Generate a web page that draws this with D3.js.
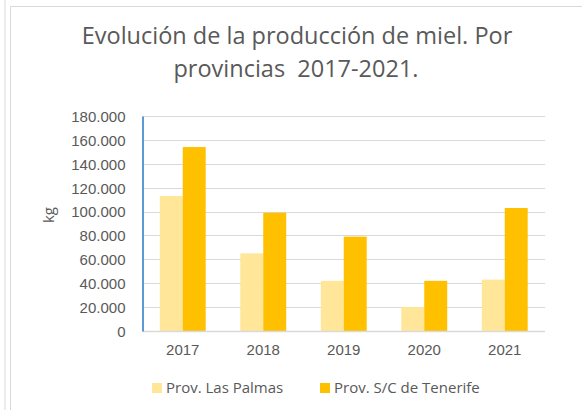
<!DOCTYPE html>
<html>
<head>
<meta charset="utf-8">
<script src="https://d3js.org/d3.v7.min.js"></script>
<style>
  body { margin: 0; background: #fff; }
  svg { display: block; font-family: "Open Sans", "Liberation Sans", Arial, sans-serif; }
</style>
</head>
<body>
<div id="chart"></div>
<script>
// data
const years = ["2017", "2018", "2019", "2020", "2021"];
const lasPalmas = [113000, 65000, 42000, 20000, 43000];
const tenerife = [154000, 99000, 79000, 42000, 103000];
const seriesNames = ["Prov. Las Palmas", "Prov. S/C de Tenerife"];
const seriesColors = ["#FFE699", "#FFC000"];
const yTicks = [0, 20000, 40000, 60000, 80000, 100000, 120000, 140000, 160000, 180000];

const width = 582, height = 410;
const margin = { left: 142.5, right: 37, top: 116, bottom: 79 };

const svg = d3.select("#chart").append("svg")
    .attr("width", width)
    .attr("height", height);

// outer frame lines
svg.append("line").attr("x1", 5).attr("x2", 5).attr("y1", 0).attr("y2", height)
    .attr("stroke", "#d9d9d9").attr("stroke-width", 1);
svg.append("path").attr("d", `M10.5,${height} V6.5 H${width}`)
    .attr("fill", "none").attr("stroke", "#d9d9d9").attr("stroke-width", 1);

const locale = d3.formatLocale({ decimal: ",", thousands: ".", grouping: [3], currency: ["", " €"] });
const fmt = locale.format(",d");

const x = d3.scaleBand()
    .domain(years)
    .range([margin.left, width - margin.right])
    .paddingInner(0.43)
    .paddingOuter(0.215);

const xs = d3.scaleBand()
    .domain(d3.range(seriesNames.length))
    .range([0, x.bandwidth()]);

const y = d3.scaleLinear()
    .domain([0, 180000])
    .range([height - margin.bottom, margin.top]);

// gridlines
svg.append("g")
    .selectAll("line")
    .data(yTicks.slice(1))
    .join("line")
    .attr("x1", margin.left)
    .attr("x2", width - margin.right)
    .attr("y1", d => Math.round(y(d)) + 0.5)
    .attr("y2", d => Math.round(y(d)) + 0.5)
    .attr("stroke", "#d9d9d9");

// bars
const rows = years.map((yr, i) => ({ year: yr, values: [lasPalmas[i], tenerife[i]] }));
svg.append("g")
    .selectAll("g")
    .data(rows)
    .join("g")
    .attr("transform", d => `translate(${x(d.year)},0)`)
    .selectAll("rect")
    .data(d => d.values.map((v, k) => ({ k, v })))
    .join("rect")
    .attr("x", d => xs(d.k))
    .attr("width", xs.bandwidth())
    .attr("y", d => y(d.v))
    .attr("height", d => y(0) - y(d.v))
    .attr("fill", d => seriesColors[d.k]);

// x axis line
svg.append("line")
    .attr("x1", margin.left).attr("x2", width - margin.right)
    .attr("y1", y(0) + 0.5).attr("y2", y(0) + 0.5)
    .attr("stroke", "#d9d9d9").attr("stroke-width", 1.5);

// y axis
const yAxis = svg.append("g")
    .attr("transform", `translate(${margin.left},0)`)
    .call(d3.axisLeft(y).tickValues(yTicks).tickFormat(fmt).tickSize(0).tickPadding(17));
yAxis.select(".domain").attr("stroke", "#5B9BD5").attr("stroke-width", 2);
yAxis.selectAll("text").attr("fill", "#595959").style("font-size", "15px").attr("dy", "0.36em");

// x axis labels
const xAxis = svg.append("g")
    .attr("transform", `translate(0,${y(0)})`)
    .call(d3.axisBottom(x).tickSize(0).tickPadding(13));
xAxis.select(".domain").remove();
xAxis.selectAll("text").attr("fill", "#595959").style("font-size", "15px");

// y axis title
svg.append("text")
    .attr("transform", "translate(54,215) rotate(-90)")
    .attr("text-anchor", "middle")
    .attr("fill", "#595959")
    .style("font-size", "15px")
    .text("kg");

// title
const title = svg.append("text")
    .attr("text-anchor", "middle")
    .attr("fill", "#595959")
    .style("font-size", "23.5px");
title.append("tspan").attr("x", 297).attr("y", 44).text("Evolución de la producción de miel. Por");
title.append("tspan").attr("x", 296).attr("y", 77).text("provincias\u00a0 2017-2021.");

// legend
const legendX = [152, 320];
const legend = svg.append("g")
    .selectAll("g")
    .data(seriesNames)
    .join("g")
    .attr("transform", (d, i) => `translate(${legendX[i]},383)`);
legend.append("rect")
    .attr("width", 10).attr("height", 10)
    .attr("fill", (d, i) => seriesColors[i]);
legend.append("text")
    .attr("x", 14).attr("y", 10)
    .attr("fill", "#595959")
    .style("font-size", "15px")
    .text(d => d);
</script>
</body>
</html>
